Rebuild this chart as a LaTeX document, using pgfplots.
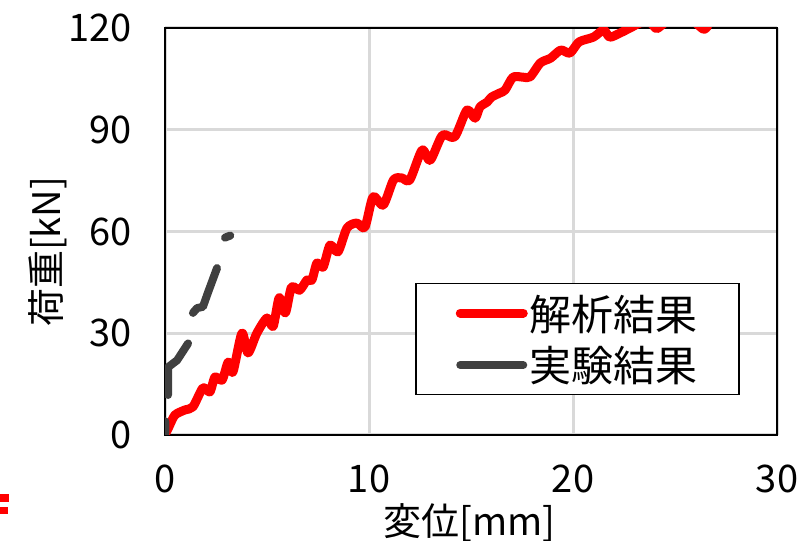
\documentclass[border=0pt]{standalone}
\usepackage{fontspec}
\setmainfont{Noto Sans CJK JP}
\usepackage{pgfplots}
\pgfplotsset{compat=1.18}
\definecolor{exgray}{HTML}{404040}
\definecolor{gridgray}{HTML}{D9D9D9}
\begin{document}
\begin{tikzpicture}[x=1pt,y=1pt]
\useasboundingbox (0,0) rectangle (799,540);
\clip (0,0) rectangle (799,540);
\begin{axis}[
  at={(165pt,105pt)}, anchor=south west,
  scale only axis, width=612pt, height=407pt,
  xmin=0, xmax=30, ymin=0, ymax=120,
  xtick={0,10,20,30}, ytick={0,30,60,90,120},
  major tick length=0pt,
  grid=major,
  major grid style={gridgray, line width=3pt},
  axis line style={black, line width=2pt},
  /pgf/number format/assume math mode=true,
  tick label style={font=\fontsize{38}{42}\selectfont},
  xticklabel style={yshift=-26pt},
  yticklabel style={xshift=-30pt},
  xlabel={変位[mm]}, ylabel={荷重[kN]},
  label style={font=\fontsize{38}{42}\selectfont},
  xlabel style={at={(axis description cs:0.498,-0.215)}, anchor=center},
  ylabel style={at={(axis description cs:-0.192,0.45)}, anchor=center, rotate=0},
  unbounded coords=jump,
  clip=true,
  legend style={at={(axis description cs:0.4085,0.3735)}, anchor=north west,
    draw=black, line width=1.5pt, font=\fontsize{42}{46}\selectfont,
    inner xsep=40pt, inner ysep=9pt, row sep=11pt, cells={anchor=west},
    nodes={inner xsep=1.5pt}},
  legend image code/.code={\draw[#1, line cap=round] (0pt,0pt) -- (63pt,0pt);},
]
\addplot[red, line width=9pt, line join=round, line cap=round, smooth, tension=0.45] coordinates {
(0,0) (0.2,2.5) (0.49,5.9) (0.98,7.4) (1.37,8.3) (1.86,13.9) (2.2,12.7) (2.45,17.1) (2.8,16.2) (3.1,21.5) (3.33,18.6) (3.77,30) (4.07,24.2) (4.5,30) (5.0,34.5) (5.3,32) (5.6,40.5) (5.9,36) (6.2,43.6) (6.6,42.7) (6.96,45.7) (7.2,45.7) (7.45,50.7) (7.75,49.5) (8.09,56) (8.48,54) (8.92,61) (9.4,62.5) (9.8,61.3) (10.2,70.2) (10.7,67.8) (11.2,75.2) (11.6,75.8) (12.0,75.2) (12.6,84) (13.0,81) (13.6,88.4) (14.2,87.9) (14.8,95.8) (15.2,93.4) (15.44,96.7) (15.8,98.2) (16.0,99.6) (16.4,100.8) (16.67,101.7) (17.06,105.5) (17.55,105.5) (17.9,105.6) (18.4,109.7) (18.9,111.1) (19.4,113.5) (19.85,112.6) (20.3,115.9) (21,117.3) (21.5,119.4) (21.8,117.3) (22.3,118.5) (22.8,120) (23.3,121.5) (23.8,121.5) (24.1,119.8) (24.5,121.5) (25,122) (25.5,122.3) (26,121.5) (26.4,119.6) (26.6,120.5)
};
\addlegendentry{解析結果}
\addplot[exgray, line width=8pt, line join=round, line cap=round] coordinates {
(0.02,0.5) (0.02,4) (nan,nan)
(0.15,11.8) (0.15,20) (0.59,22) (1.13,27) (nan,nan)
(1.37,36) (1.57,37.4) (1.86,37.8) (2.1,41.9) (2.55,49.2) (nan,nan)
(2.94,58.2) (3.2,58.8)
};
\addlegendentry{実験結果}
\end{axis}
\fill[red] (0,38) rectangle (9,46);
\fill[red] (0,26) rectangle (8,33);
\end{tikzpicture}
\end{document}
